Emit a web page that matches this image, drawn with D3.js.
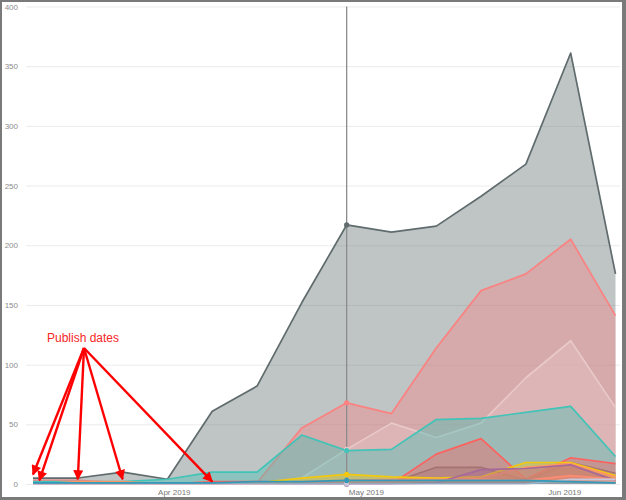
<!DOCTYPE html>
<html>
<head>
<meta charset="utf-8">
<script src="https://cdn.jsdelivr.net/npm/d3@7"></script>
<style>
  html, body { margin: 0; padding: 0; background: #fff; }
  svg { display: block; }
</style>
</head>
<body>
<svg id="chart" width="626" height="500"></svg>
<script>
// ---------- DATA ----------
const weeks = ["2019-03-10","2019-03-17","2019-03-24","2019-03-31","2019-04-07","2019-04-14","2019-04-21",
               "2019-04-28","2019-05-05","2019-05-12","2019-05-19","2019-05-26","2019-06-02","2019-06-09"];

const seriesNames  = ["total","salmon","lightPink","teal","red","maroon","yellow","orange","purple","coral","lavender","blue"];
const seriesColors = ["#5F6B6D","#FB8281","#E9C9C9","#41C3B7","#FD625E","#A57272","#F2C80F","#FE9666","#A66999","#FD8C72","#C8C8DC","#3599B8"];

const totalValues     = [5, 5, 10, 4, 61, 82, 152, 217, 211, 216, 241, 268, 361, 176];
const salmonValues    = [3, 3, 1, 0, 0, 1, 47, 68, 59, 114, 162, 176, 205, 141];
const lightPinkValues = [0, 0, 0, 0, 0, 0, 5, 29, 51, 39, 51, 89, 120, 64];
const tealValues      = [2, 2, 2, 4, 10, 10, 41, 28, 29, 54, 55, 60, 65, 23];
const redValues       = [0, 0, 0, 0, 2, 2, 1, 0, 0, 25, 38, 4, 22, 17];
const maroonValues    = [0, 0, 0, 0, 0, 0, 0, 0, 1, 14, 14, 3, 18, 9];
const yellowValues    = [0, 0, 0, 0, 0, 1, 5, 8, 6, 5, 6, 18, 18, 7];
const orangeValues    = [0, 2, 2, 0, 1, 1, 2, 3, 4, 4, 5, 14, 17, 6];
const purpleValues    = [0, 0, 0, 0, 0, 0, 0, 0, 0, 1, 12, 13, 16, 3];
const coralValues     = [0, 0, 0, 0, 0, 0, 1, 1, 2, 3, 4, 3, 7, 4];
const lavenderValues  = [0, 0, 0, 0, 0, 0, 0, 0, 0, 0, 0, 0, 4, 4];
const blueValues      = [1, 1, 1, 1, 1, 2, 2, 3, 3, 3, 3, 3, 2, 1];

const yTicks = [0, 50, 100, 150, 200, 250, 300, 350, 400];
const xTickLabels = ["Apr 2019", "May 2019", "Jun 2019"];
const xTickDates  = ["2019-04-01", "2019-05-01", "2019-06-01"];

const hoverDate = "2019-04-28";
const annotationText = "Publish dates";
const publishDates = ["2019-03-10", "2019-03-11", "2019-03-17", "2019-03-24", "2019-04-07"];
const publishTipValues = [8, 3, 4, 4, 2];

// ---------- SETUP ----------
const parse = d3.utcParse("%Y-%m-%d");
const dates = weeks.map(parse);
const allValues = [totalValues, salmonValues, lightPinkValues, tealValues, redValues, maroonValues,
                   yellowValues, orangeValues, purpleValues, coralValues, lavenderValues, blueValues];
const series = seriesNames.map((n, i) => ({
  name: n, color: seriesColors[i],
  points: dates.map((d, j) => ({ date: d, value: allValues[i][j] }))
}));

const svg = d3.select("#chart");
const x = d3.scaleUtc().domain([dates[0], dates[dates.length - 1]]).range([33, 615.5]);
const y = d3.scaleLinear().domain([0, 400]).range([484, 6.5]);

// gridlines
const gAxisY = svg.append("g").attr("transform", "translate(26,0)")
  .call(d3.axisLeft(y).tickValues(yTicks).tickSize(-594).tickFormat(d3.format("d")));
gAxisY.select(".domain").remove();
gAxisY.selectAll(".tick line").attr("stroke", "#EBEBEB").attr("stroke-width", 1);
gAxisY.selectAll(".tick text").attr("x", -8).attr("fill", "#8C8C8C")
  .style("font-family", "'Liberation Sans', Arial, sans-serif").style("font-size", "8px");

// x axis labels
const gAxisX = svg.append("g").attr("transform", "translate(0,484)")
  .call(d3.axisBottom(x).tickValues(xTickDates.map(parse)).tickSize(0)
    .tickFormat((d, i) => xTickLabels[i]));
gAxisX.select(".domain").remove();
gAxisX.selectAll(".tick text").attr("y", 5).attr("dy", "0.71em").attr("fill", "#777")
  .style("font-family", "'Liberation Sans', Arial, sans-serif").style("font-size", "8px");

// areas and lines
const area = d3.area().x(d => x(d.date)).y0(y(0)).y1(d => y(d.value));
const line = d3.line().x(d => x(d.date)).y(d => y(d.value));
const gSeries = svg.append("g");
series.forEach(s => {
  const g = gSeries.append("g");
  g.append("path").datum(s.points).attr("d", area).attr("fill", s.color).attr("fill-opacity", 0.4);
  g.append("path").datum(s.points).attr("d", line).attr("fill", "none")
    .attr("stroke", s.color).attr("stroke-width", 1.7).attr("stroke-linejoin", "round");
});

// hover line and dots
const hd = parse(hoverDate);
svg.append("line").attr("x1", x(hd)).attr("x2", x(hd)).attr("y1", y(400)).attr("y2", y(0))
  .attr("stroke", "#8C8C8C").attr("stroke-width", 1.3);
const hi = dates.findIndex(d => +d === +hd);
series.forEach(s => {
  svg.append("circle").attr("cx", x(hd)).attr("cy", y(s.points[hi].value)).attr("r", 2.6)
    .attr("fill", s.color);
});

// annotation
const apex = { x: 84, y: 348 };
svg.append("text").attr("x", 47).attr("y", 342).text(annotationText)
  .attr("fill", "#F52626").style("font-family", "'Liberation Sans', Arial, sans-serif").style("font-size", "12px");
const defs = svg.append("defs");
defs.append("marker").attr("id", "arrow").attr("viewBox", "0 0 10 10").attr("refX", 9).attr("refY", 5)
  .attr("markerWidth", 5).attr("markerHeight", 4.2).attr("orient", "auto-start-reverse")
  .attr("markerUnits", "strokeWidth")
  .append("path").attr("d", "M0,0 L10,5 L0,10 z").attr("fill", "#FF0000");
publishDates.forEach((d, i) => {
  svg.append("line").attr("x1", apex.x).attr("y1", apex.y)
    .attr("x2", x(parse(d))).attr("y2", y(publishTipValues[i]))
    .attr("stroke", "#FF0000").attr("stroke-width", 2.4).attr("marker-end", "url(#arrow)");
});

// frame
svg.append("rect").attr("x", 0).attr("y", 0).attr("width", 626).attr("height", 2).attr("fill", "#7A7A7A");
svg.append("rect").attr("x", 0).attr("y", 0).attr("width", 2).attr("height", 500).attr("fill", "#7A7A7A");
svg.append("rect").attr("x", 622).attr("y", 0).attr("width", 4).attr("height", 500).attr("fill", "#7A7A7A");
svg.append("rect").attr("x", 0).attr("y", 497).attr("width", 626).attr("height", 3).attr("fill", "#7A7A7A");
</script>
</body>
</html>
